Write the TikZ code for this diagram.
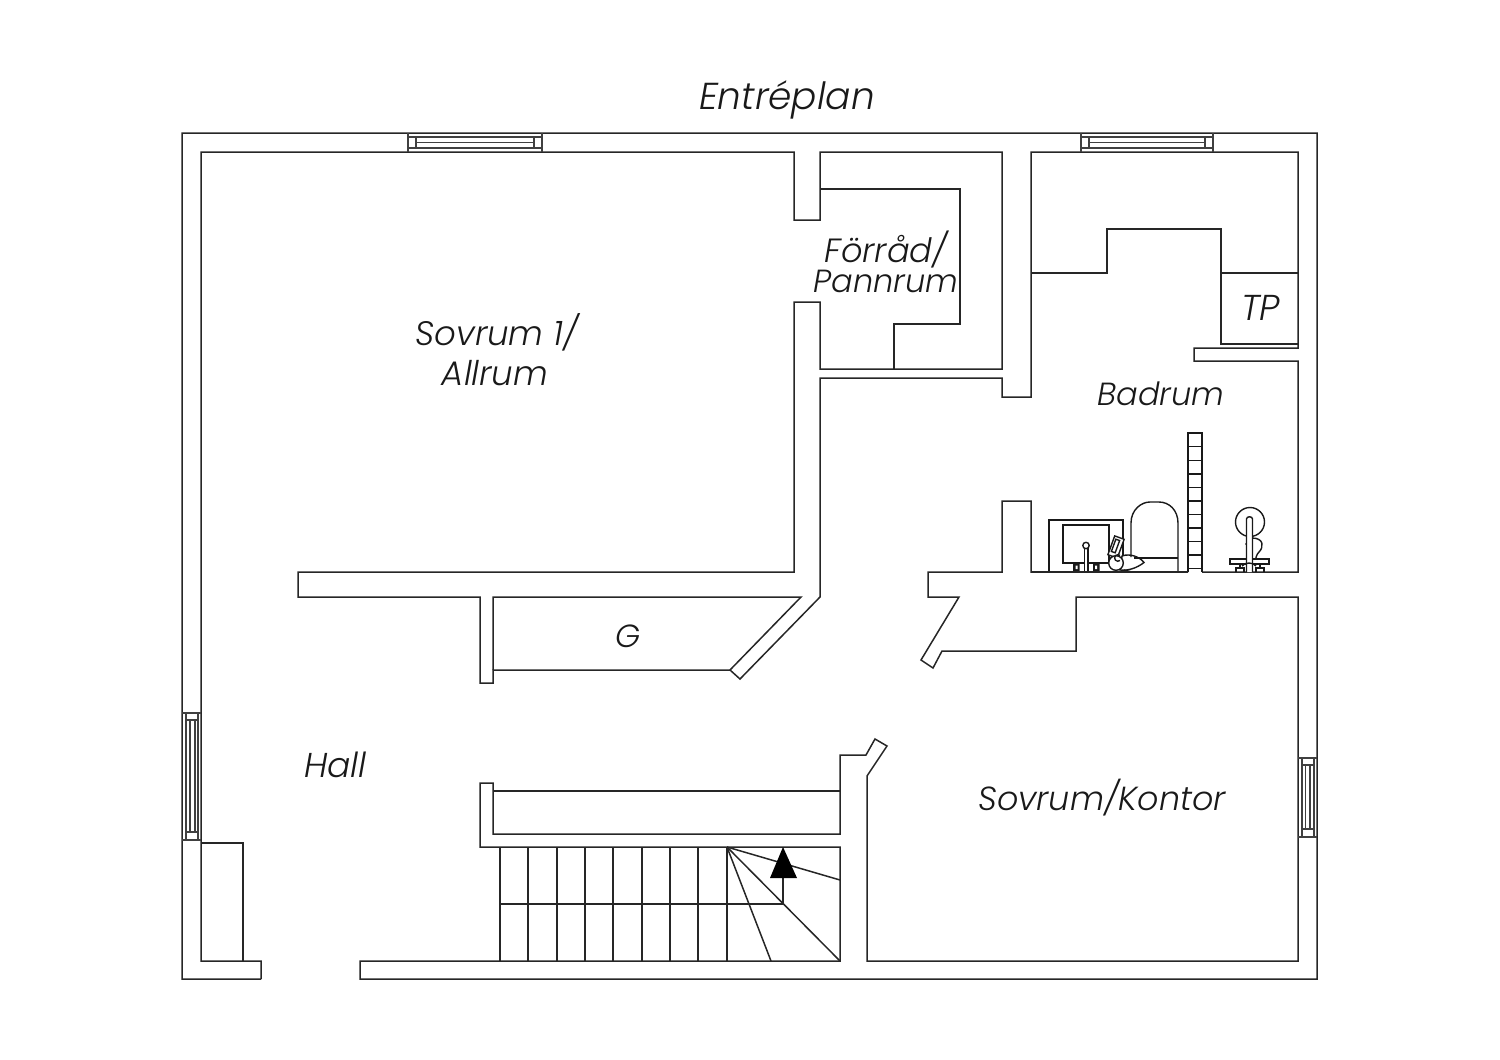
\documentclass[tikz,border=0pt]{standalone}
\usepackage{fontspec}
\setmainfont{Poppins}[UprightFont=* Light,ItalicFont=* Light Italic]
\newcommand{\labsize}[1]{\itshape\fontsize{#1}{#1}\selectfont}
\tikzset{
  wall/.style={draw=black!85,line width=1.5pt,line join=miter},
  thin/.style={draw=black!75,line width=1.1pt},
  fix/.style={draw=black!90,line width=1.4pt},
  lab/.style={inner sep=0pt,text=black!90}
}
\begin{document}
\begin{tikzpicture}[x=1pt,y=-1pt]
\useasboundingbox (0,0) rectangle (1500,1060);
% outer wall
\draw[wall] (261,979)--(182,979)--(182,133)--(1317,133)--(1317,979)--(360,979)--(360,961)--(840,961)--(840,847)--(480,847)--(480,783)--(493,783)--(493,834)--(840,834)--(840,755)--(866,755)--(875,739)--(887,746)--(867,776)--(867,961)--(1298,961)--(1298,597)--(1076,597)--(1076,651)--(942,651)--(933,668)--(921,660)--(959,597)--(928,597)--(928,572)--(1002,572)--(1002,501)--(1031,501)--(1031,572)--(1188,572);
\draw[wall] (1202,572)--(1298,572)--(1298,361)--(1194,361)--(1194,348)--(1298,348)--(1298,152)--(1031,152)--(1031,397)--(1002,397)--(1002,378)--(820,378)--(820,597)--(740,679)--(730,670)--(493,670)--(493,683)--(480,683)--(480,597)--(298,597)--(298,572)--(794,572)--(794,302)--(820,302)--(820,369)--(1002,369)--(1002,152)--(820,152)--(820,220)--(794,220)--(794,152)--(201,152)--(201,961)--(261,961)--(261,979);
\draw[wall] (493,670)--(493,597)--(801,597)--(730,670);
\draw[wall] (493,791)--(840,791);
% closet left
\draw[wall] (201,843)--(243,843)--(243,961);
% forrad
\draw[wall] (820,189)--(960,189)--(960,324)--(894,324)--(894,369);
% bathroom upper
\draw[wall] (1031,273)--(1107,273)--(1107,229)--(1221,229)--(1221,344)--(1298,344);
\draw[wall] (1221,273)--(1298,273);
% stairs
\foreach \sx in {500,528,557,585,613,642,670,698,727}{\draw[wall] (\sx,847)--(\sx,961);}
\draw[wall] (500,904)--(783,904)--(783,878);
\draw[wall] (727,847)--(840,880);
\draw[wall] (727,847)--(840,961);
\draw[wall] (727,847)--(771,961);
\fill[black] (783,847)--(770,878)--(797,878)--cycle;
% top windows
\foreach \wa/\wb/\wc/\wd in {408/416/534/542,1081/1089/1205/1213}{
  \draw[thin] (\wa,133)--(\wa,152) (\wd,133)--(\wd,152);
  \draw[thin] (\wa,137)--(\wd,137) (\wa,148)--(\wd,148);
  \draw[thin] (\wb,137)--(\wb,148) (\wc,137)--(\wc,148);
  \draw[thin] (\wb,142.5)--(\wc,142.5);
}
% left window
\draw[thin] (182,713)--(201,713) (182,840)--(201,840);
\draw[thin] (186,713)--(186,840) (198,713)--(198,840);
\draw[thin] (186,720)--(198,720) (186,832)--(198,832);
\draw[thin] (190,720)--(190,832) (195,720)--(195,832);
% right window
\draw[thin] (1298,758)--(1317,758) (1298,837)--(1317,837);
\draw[thin] (1302,758)--(1302,837) (1314,758)--(1314,837);
\draw[thin] (1302,765)--(1314,765) (1302,829)--(1314,829);
\draw[thin] (1305.5,765)--(1305.5,829) (1310,765)--(1310,829);
% ladder
\draw[fix] (1188,572)--(1188,433)--(1202,433)--(1202,572);
\foreach \ry in {446.7,460.2,473.8,487.3,501,514.3,527.8,541.3,555,568.3}{\draw[fix] (1188,\ry)--(1202,\ry);}
% vanity
\draw[fix] (1049,572)--(1049,520)--(1123,520)--(1123,555);
\draw[fix] (1063,525) rectangle (1109,563);
\fill[black!90] (1073,563) rectangle (1079.5,571) (1093,563) rectangle (1099.5,571);
\fill[white] (1075.5,565.5) rectangle (1077.5,569) (1095,565.5) rectangle (1097,569);
\draw[fix,fill=white] (1084.5,572)--(1084.5,548)--(1088,548)--(1088,572);
\draw[fix,fill=white] (1086,545.5) circle (3.2);
% small fixture
\draw[fix,fill=white,rotate around={-20:(1116,547)}] (1111,537) rectangle (1121,557);
\draw[fix,fill=white,rotate around={-20:(1115.5,546)}] (1113.5,539.5) rectangle (1117.5,552.5);
\draw[fix,fill=white] (1122,556)..controls (1130,553) and (1140,557) .. (1144,562.5)..controls (1137,568) and (1128,571) .. (1120,570)--cycle;
\draw[fix,fill=white] (1116,563) circle (7.3);
\draw[fix] (1120,560.5) arc (50:310:3.3);
\draw[fix] (1124,570)--(1132,572);
% toilet arch
\draw[fix] (1131,557) -- (1131,523)..controls (1131,510) and (1141,502) .. (1150,502)--(1159,502)..controls (1169,502) and (1178,510) .. (1178,523)--(1178,572);
\draw[fix] (1134,558)--(1178,558);
\draw[wall] (1031,572)--(1188,572);
% shower
\draw[fix] (1250,522) circle (14.5);
\draw[fix] (1252,538)..controls (1264,538) and (1264,547) .. (1259,552)..controls (1256,555) and (1256,558) .. (1255,562);
\fill[black] (1247,544) circle (1.8);
\draw[fix,fill=white] (1230,559) rectangle (1269,564);
\draw[fix] (1240,564)--(1240,568) (1260,564)--(1260,568);
\draw[fix] (1236,572)--(1236,568)--(1244,568)--(1244,572) (1256,572)--(1256,568)--(1264,568)--(1264,572);
\draw[fix,fill=white] (1246.5,572)--(1246.5,519)..controls (1246.5,516) and (1252.5,516) .. (1252.5,519)--(1252.5,572);
\draw[fix] (1242,566)..controls (1245,562) and (1253,562) .. (1256,566);
% labels
\node[lab,font=\labsize{37.5}] (title) at (787,100) {Entréplan};
\node[lab,align=center,font=\labsize{33}] (forrad) at (886,262) {\fontsize{33.6}{31}\selectfont Förråd/\\[-2.5pt]\fontsize{32}{31}\selectfont Pannrum};
\node[lab,font=\labsize{34}] (sov1) at (497,332) {Sovrum 1/};
\node[lab,font=\labsize{34}] (allrum) at (495,373) {Allrum};
\node[lab,font=\labsize{32}] (badrum) at (1161,394) {Badrum};
\node[lab,font=\labsize{36}] (tp) at (1260.5,308) {TP};
\node[lab,font=\labsize{32}] (g) at (628,636) {G};
\node[lab,font=\labsize{34.5}] (hall) at (335.5,765) {Hall};
\node[lab,font=\labsize{33.4}] (kontor) at (1102,798) {Sovrum/Kontor};
\end{tikzpicture}
\end{document}
